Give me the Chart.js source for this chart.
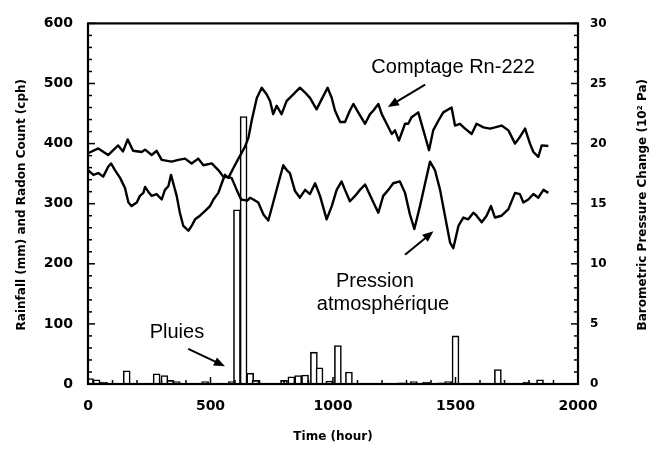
<!DOCTYPE html>
<html>
<head>
<meta charset="utf-8">
<script src="https://cdn.jsdelivr.net/npm/chart.js@4.4.1/dist/chart.umd.min.js"></script>
<style>
  body { margin: 0; background: #fff; }
</style>
</head>
<body>
<canvas id="chart" width="663" height="449"></canvas>
<script>
// valeurs (temps en heures)
const radonTime = [0, 22, 42, 62, 83, 94, 110, 131, 151, 165, 178, 199, 212, 226, 233, 246, 260, 280, 301, 314, 328, 339, 348, 362, 375, 389, 410, 423, 437, 457, 478, 498, 512, 532, 546, 559, 573, 593, 614, 641, 655, 668, 689, 709, 729, 743, 756, 770, 790, 811, 838, 865, 886, 906, 933, 954, 978, 995, 1008, 1029, 1049, 1069, 1083, 1103, 1131, 1151, 1165, 1185, 1199, 1219, 1240, 1253, 1269, 1294, 1307, 1321, 1348, 1369, 1392, 1409, 1430, 1450, 1484, 1498, 1518, 1539, 1566, 1586, 1614, 1641, 1661, 1688, 1716, 1743, 1763, 1784, 1804, 1818, 1838, 1852, 1879];
const radonCount = [356, 348, 351, 345, 362, 367, 356, 343, 326, 302, 296, 302, 313, 318, 328, 320, 313, 316, 307, 323, 329, 348, 334, 313, 285, 263, 255, 263, 274, 280, 288, 296, 307, 318, 334, 348, 343, 359, 375, 395, 410, 438, 476, 493, 482, 471, 449, 463, 449, 471, 482, 493, 485, 476, 457, 474, 493, 476, 455, 436, 436, 455, 466, 452, 433, 449, 455, 466, 449, 433, 416, 422, 405, 433, 433, 444, 452, 422, 389, 422, 438, 452, 460, 430, 433, 425, 416, 433, 427, 425, 427, 430, 422, 400, 411, 425, 400, 386, 378, 397, 396];

const pressureTime = [0, 42, 82, 123, 143, 162, 184, 219, 233, 260, 280, 301, 341, 369, 396, 423, 450, 471, 505, 532, 552, 586, 607, 625, 650, 661, 675, 695, 716, 736, 756, 777, 797, 811, 824, 845, 865, 886, 906, 927, 947, 974, 995, 1015, 1035, 1049, 1069, 1090, 1110, 1131, 1147, 1165, 1185, 1205, 1226, 1246, 1273, 1294, 1314, 1332, 1355, 1376, 1396, 1416, 1437, 1457, 1478, 1491, 1512, 1532, 1552, 1573, 1586, 1607, 1627, 1645, 1661, 1688, 1716, 1743, 1763, 1777, 1797, 1818, 1838, 1859, 1879];
const pressureChange = [19.2, 19.6, 19.05, 19.85, 19.35, 20.35, 19.4, 19.3, 19.5, 19.05, 19.4, 18.65, 18.5, 18.65, 18.75, 18.35, 18.75, 18.2, 18.35, 17.8, 17.25, 17.15, 16.15, 15.35, 15.25, 15.5, 15.35, 15.1, 14.1, 13.6, 15.1, 16.7, 18.2, 17.8, 17.55, 16.05, 15.5, 16.15, 15.8, 16.7, 15.65, 13.7, 14.8, 16.15, 16.85, 16.15, 15.2, 15.65, 16.15, 16.6, 15.9, 15.1, 14.25, 15.65, 16.15, 16.7, 16.85, 15.9, 14.1, 12.9, 14.8, 16.7, 18.5, 17.8, 16.15, 14.0, 11.75, 11.3, 13.15, 13.85, 13.7, 14.25, 14.0, 13.45, 14.0, 14.8, 13.85, 14.0, 14.55, 15.9, 15.8, 15.1, 15.35, 15.8, 15.5, 16.15, 15.9];

const rainTime = [8, 35, 65, 158, 280, 312, 336, 362, 478, 587, 608, 635, 662, 684, 800, 830, 858, 886, 922, 945, 985, 1020, 1065, 1280, 1330, 1380, 1445, 1470, 1500, 1673, 1790, 1845];
const rainfall = [9, 7, 3, 22, 17, 14, 6, 4, 4, 4, 290, 445, 18, 6, 6, 12, 14, 15, 53, 27, 5, 64, 20, 2, 4, 3, 2, 4, 80, 24, 3, 7];

const timeTicks = [0, 500, 1000, 1500, 2000];
const countTicks = [0, 100, 200, 300, 400, 500, 600];
const pressureTicks = [0, 5, 10, 15, 20, 25, 30];

const toXY = (xs, ys) => xs.map((x, i) => ({ x: x, y: ys[i] }));
const tickFont = { family: 'DejaVu Sans', weight: 'bold', size: 14 };

// ticks vers l'intérieur + cadre
const frameTicks = {
  id: 'frameTicks',
  afterDatasetsDraw(chart) {
    const { ctx, chartArea: a, scales } = chart;
    ctx.save();
    ctx.strokeStyle = '#000';
    ctx.lineWidth = 1.5;
    const seg = (x1, y1, x2, y2) => { ctx.beginPath(); ctx.moveTo(x1, y1); ctx.lineTo(x2, y2); ctx.stroke(); };
    scales.y.ticks.forEach(t => {
      const y = scales.y.getPixelForValue(t.value);
      seg(a.left, y, a.left + (countTicks.includes(t.value) ? 7 : 4), y);
    });
    scales.y1.ticks.forEach(t => {
      const y = scales.y1.getPixelForValue(t.value);
      seg(a.right, y, a.right - (pressureTicks.includes(t.value) ? 7 : 4), y);
    });
    scales.x.ticks.forEach(t => {
      const x = scales.x.getPixelForValue(t.value);
      seg(x, a.bottom, x, a.bottom - (timeTicks.includes(t.value) ? 7 : 4));
    });
    ctx.lineWidth = 2.2;
    ctx.strokeRect(a.left, a.top, a.right - a.left, a.bottom - a.top);
    ctx.restore();
  }
};

// titres d'axes et annotations
const labels = {
  id: 'labels',
  afterDraw(chart) {
    const { ctx, chartArea: a, scales } = chart;
    const px = t => scales.x.getPixelForValue(t);
    const py = v => scales.y.getPixelForValue(v);
    ctx.save();
    ctx.fillStyle = '#000';
    ctx.strokeStyle = '#000';
    ctx.font = 'bold 12px "DejaVu Sans"';
    ctx.textAlign = 'center';
    ctx.textBaseline = 'middle';
    const midY = (a.top + a.bottom) / 2;
    [[22, 'Rainfall (mm) and Radon Count (cph)'], [643, 'Barometric Pressure Change (10² Pa)']].forEach(([x, s]) => {
      ctx.save();
      ctx.translate(x, midY + 1);
      ctx.rotate(-Math.PI / 2);
      ctx.fillText(s, 0, 0);
      ctx.restore();
    });
    ctx.fillText('Time (hour)', (a.left + a.right) / 2, 437);

    ctx.font = '20px "Liberation Sans"';
    ctx.textBaseline = 'alphabetic';
    ctx.fillText('Comptage Rn-222', px(1490), py(518));
    ctx.fillText('Pression', px(1171), py(162));
    ctx.fillText('atmosphérique', px(1204), py(123));
    ctx.fillText('Pluies', px(363), py(77));

    const arrow = (t1, v1, t2, v2) => {
      const x1 = px(t1), y1 = py(v1), x2 = px(t2), y2 = py(v2);
      const ang = Math.atan2(y2 - y1, x2 - x1);
      ctx.lineWidth = 2;
      ctx.beginPath(); ctx.moveTo(x1, y1);
      ctx.lineTo(x2 - 6 * Math.cos(ang), y2 - 6 * Math.sin(ang)); ctx.stroke();
      ctx.beginPath();
      ctx.moveTo(x2, y2);
      ctx.lineTo(x2 - 11 * Math.cos(ang) + 4.5 * Math.sin(ang), y2 - 11 * Math.sin(ang) - 4.5 * Math.cos(ang));
      ctx.lineTo(x2 - 11 * Math.cos(ang) - 4.5 * Math.sin(ang), y2 - 11 * Math.sin(ang) + 4.5 * Math.cos(ang));
      ctx.closePath(); ctx.fill();
    };
    arrow(1376, 498, 1224, 461);
    arrow(1294, 215, 1410, 254);
    arrow(409, 58.5, 559, 29.5);
    ctx.restore();
  }
};

new Chart(document.getElementById('chart'), {
  type: 'line',
  data: {
    datasets: [
      {
        label: 'Comptage Rn-222',
        data: toXY(radonTime, radonCount),
        yAxisID: 'y',
        borderColor: '#000',
        borderWidth: 2.4,
        pointRadius: 0,
        tension: 0,
        borderJoinStyle: 'round',
        order: 0
      },
      {
        label: 'Pression atmosphérique',
        data: toXY(pressureTime, pressureChange),
        yAxisID: 'y1',
        borderColor: '#000',
        borderWidth: 2.4,
        pointRadius: 0,
        tension: 0,
        borderJoinStyle: 'round',
        order: 0
      },
      {
        type: 'bar',
        label: 'Pluies',
        data: toXY(rainTime, rainfall),
        yAxisID: 'y',
        backgroundColor: '#fff',
        borderColor: '#000',
        borderWidth: 1.6,
        barThickness: 7,
        order: 1
      }
    ]
  },
  options: {
    responsive: false,
    animation: false,
    devicePixelRatio: 1,
    layout: { padding: { top: 18, left: 0, right: 0, bottom: 0 } },
    plugins: { legend: { display: false }, tooltip: { enabled: false } },
    scales: {
      x: {
        type: 'linear', min: 0, max: 2000, offset: false,
        grid: { display: false, drawTicks: false }, border: { display: false },
        ticks: {
          stepSize: 100, autoSkip: false, maxRotation: 0, padding: 14,
          color: '#000', font: tickFont,
          callback: v => timeTicks.includes(v) ? String(v) : ''
        },
        afterFit: s => { s.height = 65; }
      },
      y: {
        position: 'left', min: 0, max: 600,
        grid: { display: false, drawTicks: false }, border: { display: false },
        ticks: {
          stepSize: 20, autoSkip: false, padding: 15,
          color: '#000', font: tickFont,
          callback: v => countTicks.includes(v) ? String(v) : ''
        },
        afterFit: s => { s.width = 88; }
      },
      y1: {
        position: 'right', min: 0, max: 30,
        grid: { display: false, drawTicks: false }, border: { display: false },
        ticks: {
          stepSize: 1, autoSkip: false, padding: 12,
          color: '#000', font: { family: 'DejaVu Sans', weight: 'bold', size: 12 },
          callback: v => pressureTicks.includes(v) ? String(v) : ''
        },
        afterFit: s => { s.width = 85; }
      }
    }
  },
  plugins: [frameTicks, labels]
});
</script>
</body>
</html>
